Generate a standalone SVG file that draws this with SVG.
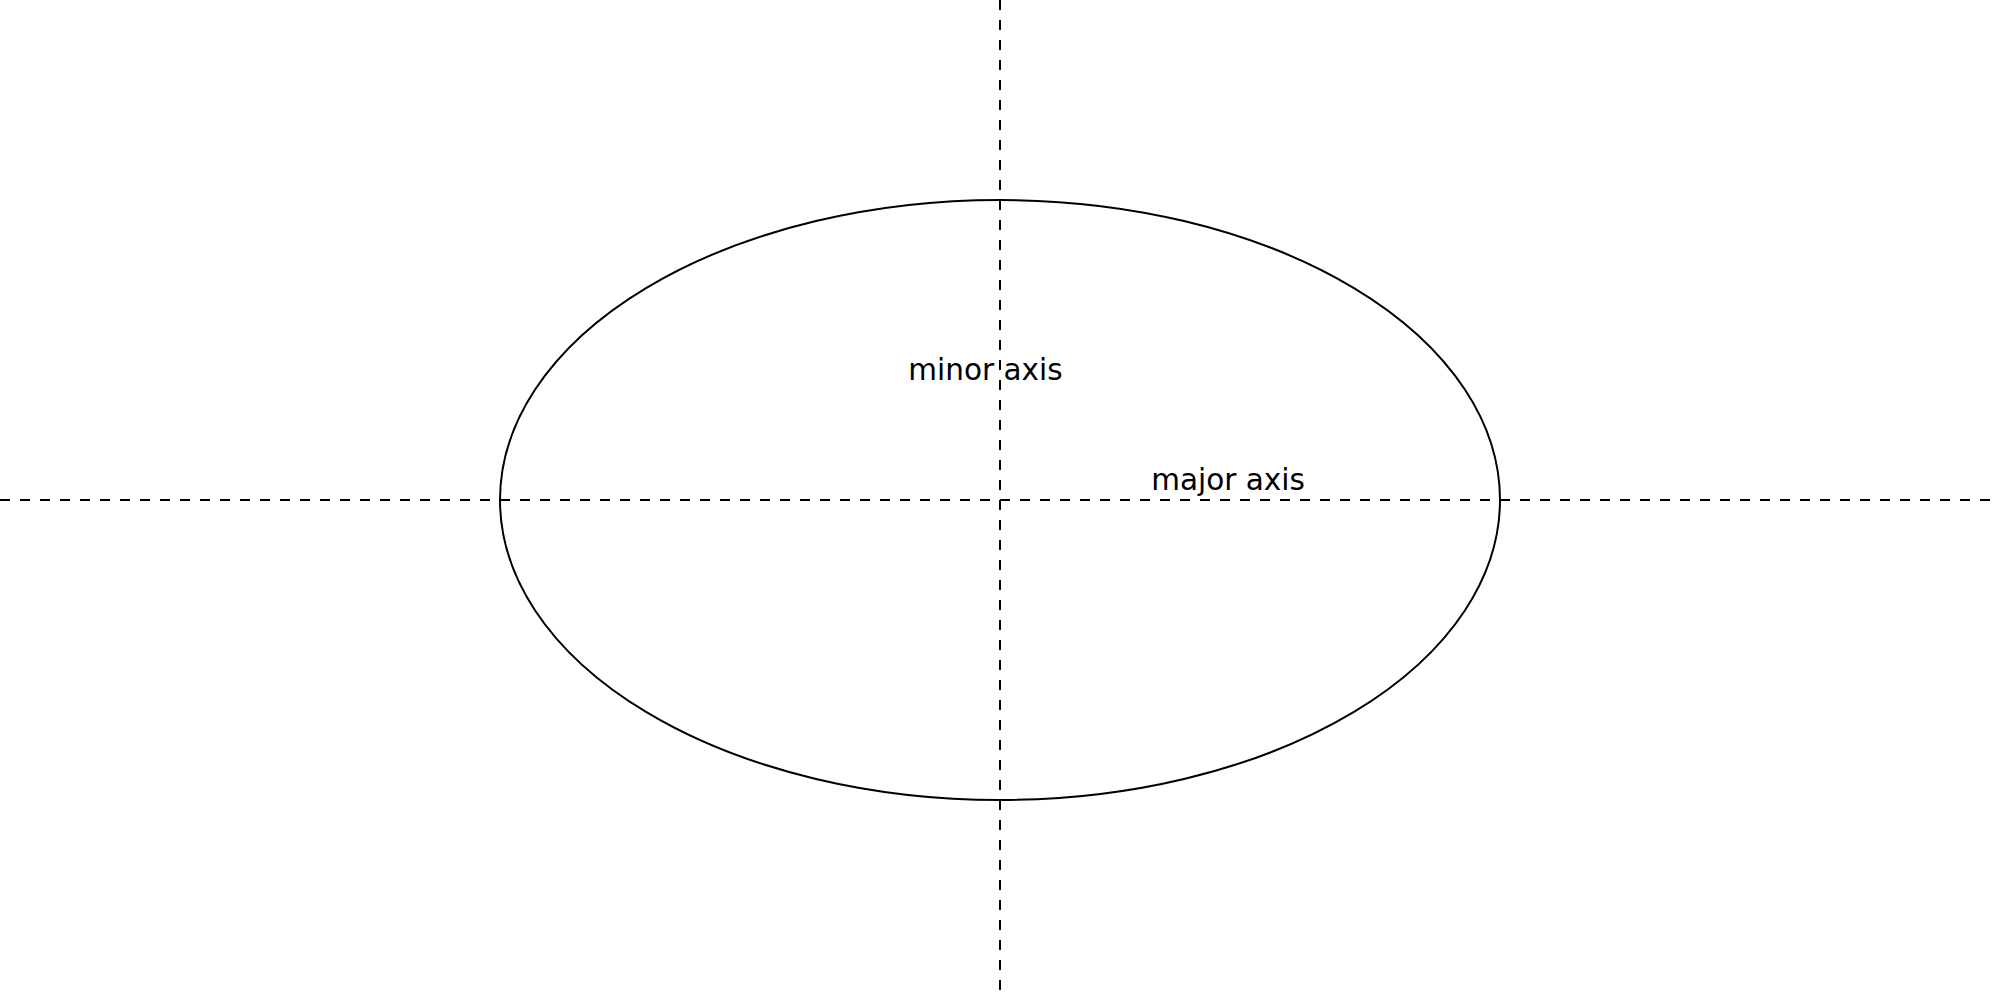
<svg xmlns="http://www.w3.org/2000/svg" width="2000" height="1000" viewBox="0 0 2000 1000">
<style>
.axis{stroke:#000;stroke-width:2;stroke-dasharray:10 10;fill:none}
.shape{stroke:#000;stroke-width:2;fill:none}
.lbl{font-family:"DejaVu Sans","Liberation Sans",sans-serif;font-size:29.5px;fill:#000;text-anchor:middle}
</style>
<rect width="2000" height="1000" fill="#fff"/>
<g id="connectors">
<line class="axis" x1="0" y1="500" x2="2000" y2="500"/>
<line class="axis" x1="1000" y1="0" x2="1000" y2="1000"/>
</g>
<g id="ellipse">
<ellipse class="shape" cx="1000" cy="500" rx="500" ry="300"/>
</g>
<g id="label-minor">
<text class="lbl" x="985.5" y="380">minor axis</text>
</g>
<g id="label-major">
<text class="lbl" x="1228" y="490">major axis</text>
</g>
</svg>
